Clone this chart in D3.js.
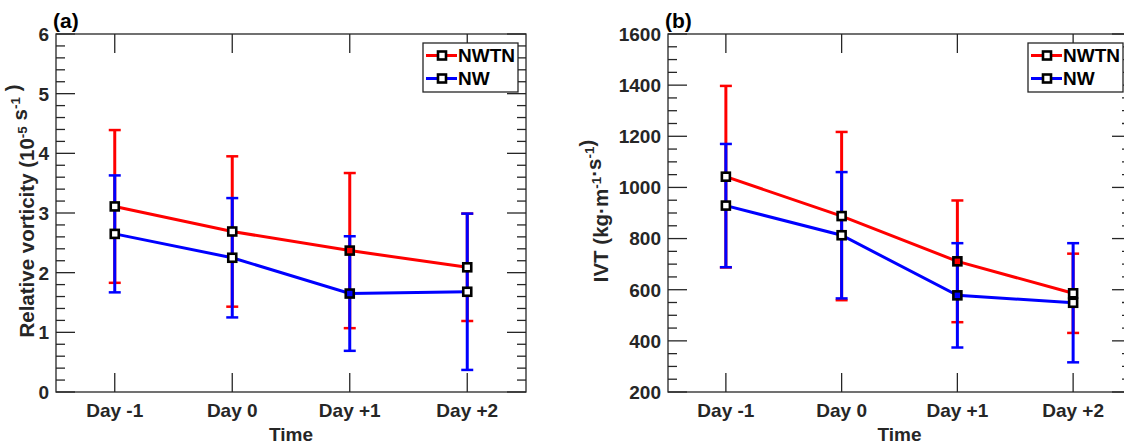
<!DOCTYPE html>
<html>
<head>
<meta charset="utf-8">
<script src="https://cdn.jsdelivr.net/npm/d3@7"></script>
<style>
  html, body { margin: 0; padding: 0; background: #fff; }
  svg { display: block; font-family: "Liberation Sans", Arial, Helvetica, sans-serif; font-weight: bold; }
</style>
</head>
<body>
<svg id="fig" width="1124" height="445"></svg>
<script>
// Composite days relative to the event
const categories = ["Day -1", "Day 0", "Day +1", "Day +2"];
const seriesNames = ["NWTN", "NW"];
const seriesColors = ["#ff0000", "#0000ff"];

// (a) relative vorticity, mean and standard deviation (10^-5 s^-1)
const vortNWTN = [3.11, 2.69, 2.37, 2.09];
const vortNWTNsd = [1.28, 1.26, 1.30, 0.90];
const vortNW = [2.65, 2.25, 1.65, 1.68];
const vortNWsd = [0.98, 1.00, 0.96, 1.31];
const vortTicks = [0, 1, 2, 3, 4, 5, 6];

// (b) integrated vapour transport, mean and standard deviation (kg m^-1 s^-1)
const ivtNWTN = [1042, 888, 711, 586];
const ivtNWTNsd = [355, 329, 238, 155];
const ivtNW = [929, 813, 578, 549];
const ivtNWsd = [241, 247, 204, 233];
const ivtTicks = [200, 400, 600, 800, 1000, 1200, 1400, 1600];

const svg = d3.select("#fig");
const AX = "#262626";
const FS = 19;

function drawPanel(p) {
  const g = svg.append("g");
  const x = d3.scalePoint().domain(categories).range([p.left, p.right]).padding(0.5);
  const y = d3.scaleLinear().domain([p.ticks[0], p.ticks[p.ticks.length - 1]]).range([p.bottom, p.top]);

  // major and minor ticks on both vertical edges, category ticks top and bottom
  const minor = d3.range(p.ticks[0], p.ticks[p.ticks.length - 1] + p.minorStep / 2, p.minorStep);
  const majorLen = 19, minorLen = 9;
  const tickG = g.append("g").attr("stroke", AX).attr("stroke-width", 1.3);
  minor.forEach(v => {
    const isMajor = p.ticks.some(t => Math.abs(t - v) < 1e-6);
    const len = isMajor ? majorLen : minorLen;
    tickG.append("line").attr("x1", p.left).attr("x2", p.left + len).attr("y1", y(v)).attr("y2", y(v));
    tickG.append("line").attr("x1", p.right).attr("x2", p.right - len).attr("y1", y(v)).attr("y2", y(v));
  });
  categories.forEach(c => {
    tickG.append("line").attr("x1", x(c)).attr("x2", x(c)).attr("y1", p.bottom).attr("y2", p.bottom - majorLen);
    tickG.append("line").attr("x1", x(c)).attr("x2", x(c)).attr("y1", p.top).attr("y2", p.top + majorLen);
  });

  // y tick labels
  g.append("g").selectAll("text").data(p.ticks).join("text")
    .attr("x", p.left - 7).attr("y", d => y(d)).attr("dy", "0.36em")
    .attr("text-anchor", "end").attr("font-size", FS).attr("fill", AX)
    .text(d => d);

  // x tick labels
  g.append("g").selectAll("text").data(categories).join("text")
    .attr("x", d => x(d)).attr("y", 417)
    .attr("text-anchor", "middle").attr("font-size", FS).attr("fill", AX)
    .text(d => d);

  // x axis title
  g.append("text").attr("x", (p.left + p.right) / 2).attr("y", 441)
    .attr("text-anchor", "middle").attr("font-size", FS).attr("fill", AX).text("Time");

  // y axis title with superscripts
  const yl = g.append("text")
    .attr("transform", `translate(${p.ylabX},${(p.top + p.bottom) / 2 - 2}) rotate(-90)`)
    .attr("text-anchor", "middle").attr("font-size", 20.5).attr("fill", AX);
  p.ylabel.forEach(part => {
    if (part.sup) {
      yl.append("tspan").attr("dy", -7).attr("font-size", 13.5).text(part.sup);
      yl.append("tspan").attr("dy", 7).text("");
    } else {
      yl.append("tspan").text(part.t);
    }
  });

  // panel tag
  g.append("text").attr("x", p.left - 3).attr("y", 28).attr("font-size", 21).attr("fill", "#000").text(p.tag);

  // error bars and connecting lines
  const line = d3.line().x((d, i) => x(categories[i])).y(d => y(d));
  p.series.forEach((s, k) => {
    const col = seriesColors[k];
    g.append("path").datum(s.mean).attr("d", line).attr("fill", "none")
      .attr("stroke", col).attr("stroke-width", 3);
    s.mean.forEach((m, i) => {
      const cx = x(categories[i]);
      const lo = y(m - s.sd[i]), hi = y(m + s.sd[i]);
      g.append("line").attr("x1", cx).attr("x2", cx).attr("y1", lo).attr("y2", hi)
        .attr("stroke", col).attr("stroke-width", 3);
      [lo, hi].forEach(yy => g.append("line").attr("x1", cx - 6).attr("x2", cx + 6)
        .attr("y1", yy).attr("y2", yy).attr("stroke", col).attr("stroke-width", 2.5));
    });
  });

  // square markers; the Day +1 markers are filled with the series colour
  p.series.forEach((s, k) => {
    g.append("g").selectAll("rect").data(s.mean).join("rect")
      .attr("x", (d, i) => x(categories[i]) - 4).attr("y", d => y(d) - 4)
      .attr("width", 8).attr("height", 8)
      .attr("fill", (d, i) => categories[i] === "Day +1" ? seriesColors[k] : "#fff")
      .attr("stroke", "#000").attr("stroke-width", 2.6);
  });

  // axes box
  g.append("rect").attr("x", p.left).attr("y", p.top)
    .attr("width", p.right - p.left).attr("height", p.bottom - p.top)
    .attr("fill", "none").attr("stroke", AX).attr("stroke-width", 1.3);

  // legend
  const lw = 95, lh = 49;
  const lx = p.right - 8 - lw, ly = 43;
  const lg = g.append("g");
  lg.append("rect").attr("x", lx).attr("y", ly).attr("width", lw).attr("height", lh)
    .attr("fill", "#fff").attr("stroke", AX).attr("stroke-width", 1.3);
  seriesNames.forEach((n, k) => {
    const yy = ly + 12.5 + k * 23;
    lg.append("line").attr("x1", lx + 3).attr("x2", lx + 34).attr("y1", yy).attr("y2", yy)
      .attr("stroke", seriesColors[k]).attr("stroke-width", 3);
    lg.append("rect").attr("x", lx + 15).attr("y", yy - 4).attr("width", 8).attr("height", 8)
      .attr("fill", "#fff").attr("stroke", "#000").attr("stroke-width", 2.6);
    lg.append("text").attr("x", lx + 35).attr("y", yy).attr("dy", "0.36em")
      .attr("font-size", FS).attr("fill", "#000").text(n);
  });
}

drawPanel({
  tag: "(a)", left: 56, right: 526, top: 34, bottom: 392,
  ticks: vortTicks, minorStep: 0.2, ylabX: 34,
  ylabel: [{ t: "Relative vorticity (10" }, { sup: "-5" }, { t: " s" }, { sup: "-1" }, { t: " )" }],
  series: [{ mean: vortNWTN, sd: vortNWTNsd }, { mean: vortNW, sd: vortNWsd }]
});

drawPanel({
  tag: "(b)", left: 668, right: 1131, top: 34, bottom: 392,
  ticks: ivtTicks, minorStep: 50, ylabX: 608,
  ylabel: [{ t: "IVT (kg\u00b7m" }, { sup: "-1" }, { t: "\u00b7s" }, { sup: "-1" }, { t: ")" }],
  series: [{ mean: ivtNWTN, sd: ivtNWTNsd }, { mean: ivtNW, sd: ivtNWsd }]
});
</script>
</body>
</html>
